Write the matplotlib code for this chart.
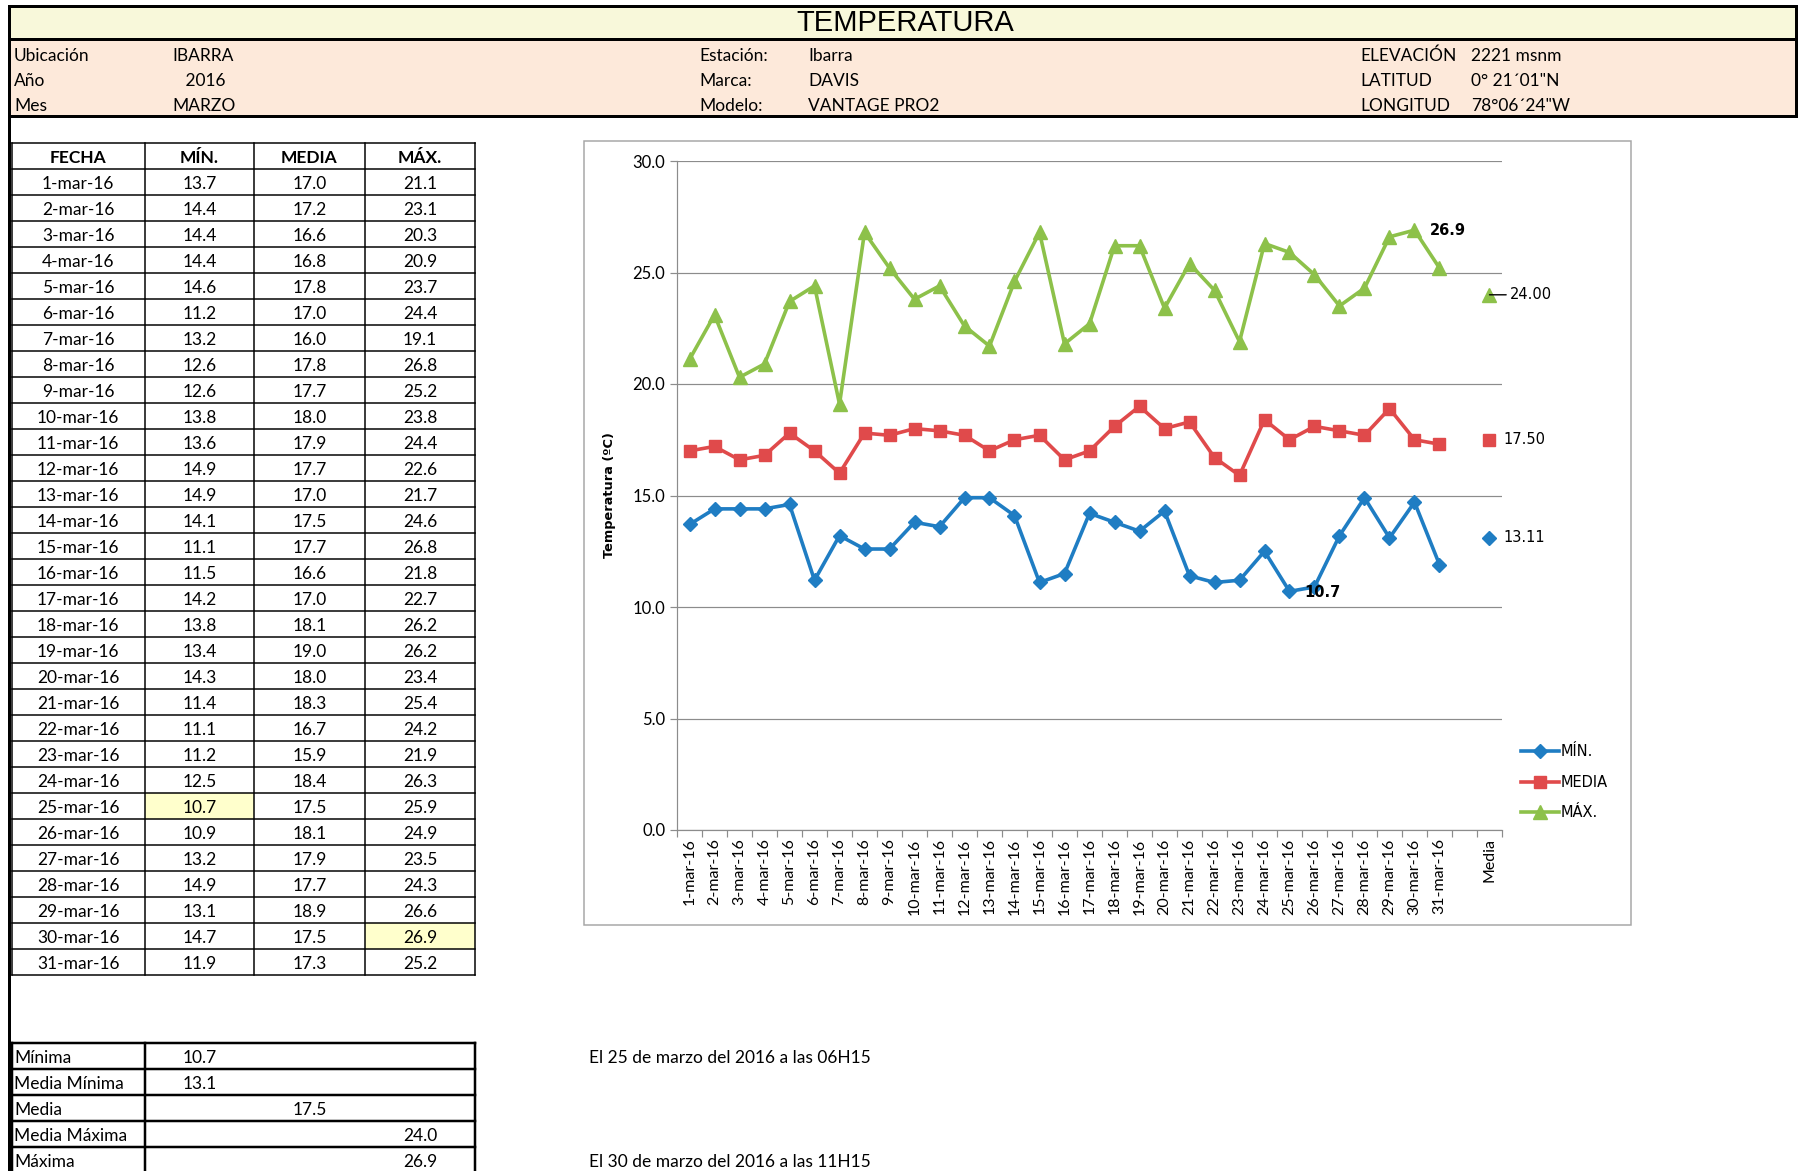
import numpy as np
import matplotlib
matplotlib.use('Agg')
from matplotlib import pyplot as plt
from matplotlib.patches import Rectangle

plt.rcParams['font.family'] = ['Lato', 'DejaVu Sans']

# ---- datos ----
dias = [f"{d}-mar-16" for d in range(1, 32)]
t_min = [13.7, 14.4, 14.4, 14.4, 14.6, 11.2, 13.2, 12.6, 12.6, 13.8, 13.6, 14.9, 14.9, 14.1, 11.1, 11.5,
         14.2, 13.8, 13.4, 14.3, 11.4, 11.1, 11.2, 12.5, 10.7, 10.9, 13.2, 14.9, 13.1, 14.7, 11.9]
t_media = [17.0, 17.2, 16.6, 16.8, 17.8, 17.0, 16.0, 17.8, 17.7, 18.0, 17.9, 17.7, 17.0, 17.5, 17.7, 16.6,
           17.0, 18.1, 19.0, 18.0, 18.3, 16.7, 15.9, 18.4, 17.5, 18.1, 17.9, 17.7, 18.9, 17.5, 17.3]
t_max = [21.1, 23.1, 20.3, 20.9, 23.7, 24.4, 19.1, 26.8, 25.2, 23.8, 24.4, 22.6, 21.7, 24.6, 26.8, 21.8,
         22.7, 26.2, 26.2, 23.4, 25.4, 24.2, 21.9, 26.3, 25.9, 24.9, 23.5, 24.3, 26.6, 26.9, 25.2]
promedio_min = 13.11
promedio_media = 17.50
promedio_max = 24.00

encabezados = ['FECHA', 'MÍN.', 'MEDIA', 'MÁX.']
resumen_etiquetas = ['Mínima', 'Media Mínima', 'Media', 'Media Máxima', 'Máxima']
resumen_valores = [10.7, 13.1, 17.5, 24.0, 26.9]
resumen_columna = [1, 1, 2, 3, 3]
nota_min = 'El 25 de marzo del 2016 a las 06H15'
nota_max = 'El 30 de marzo del 2016 a las 11H15'

info = [('Ubicación', 'IBARRA', 'Estación:', 'Ibarra', 'ELEVACIÓN', '2221 msnm'),
        ('Año', '   2016', 'Marca:', 'DAVIS', 'LATITUD', '0° 21´01"N'),
        ('Mes', 'MARZO', 'Modelo:', 'VANTAGE PRO2', 'LONGITUD', '78°06´24"W')]

c_min, c_media, c_max = '#1F7DC3', '#E04A4B', '#8DC14A'

W, H = 1803, 1171
fig = plt.figure(figsize=(W / 100, H / 100), dpi=100)
bg = fig.add_axes([0, 0, 1, 1])
bg.set_xlim(0, W)
bg.set_ylim(H, 0)
bg.axis('off')

px = 0.72  # 1 px en puntos
fs = 12.5  # letra de la hoja
dy = 2     # ajuste vertical del texto


def hl(y, x0, x1, w=1.5):
    bg.plot([x0, x1], [y, y], color='black', lw=w * px, solid_capstyle='projecting')


def vl(x, y0, y1, w=1.5):
    bg.plot([x, x], [y0, y1], color='black', lw=w * px, solid_capstyle='projecting')


# ---- cabecera ----
bg.add_patch(Rectangle((9, 6), 1787, 33, facecolor='#F8F8DA', edgecolor='none'))
bg.add_patch(Rectangle((9, 40), 1787, 76, facecolor='#FDE9DA', edgecolor='none'))
hl(6, 9, 1796, 3)
hl(39, 9, 1796, 3)
hl(116, 9, 1796, 3)
vl(9, 6, H, 3)
vl(1796, 6, 116, 3)
bg.text(905, 23, 'TEMPERATURA', fontsize=21, family='Liberation Sans', ha='center', va='center')
col_x = [14, 172, 699, 808, 1360, 1471]
for r, fila in enumerate(info):
    y = 54 + 25 * r + dy
    for x, t in zip(col_x, fila):
        bg.text(x, y, t, fontsize=fs, ha='left', va='center')

# ---- tabla diaria ----
tx = [11.5, 145, 254, 365, 475]
ty0, th = 143, 26
i_min = int(np.argmin(t_min))
i_max = int(np.argmax(t_max))
bg.add_patch(Rectangle((tx[1], ty0 + th * (i_min + 1)), tx[2] - tx[1], th, facecolor='#FFFFCC', edgecolor='none'))
bg.add_patch(Rectangle((tx[3], ty0 + th * (i_max + 1)), tx[4] - tx[3], th, facecolor='#FFFFCC', edgecolor='none'))
n_filas = len(dias) + 1
for r in range(n_filas + 1):
    hl(ty0 + th * r, tx[0], tx[-1])
for x in tx:
    vl(x, ty0, ty0 + th * n_filas)
centros = [(tx[i] + tx[i + 1]) / 2 for i in range(4)]
for c, t in zip(centros, encabezados):
    bg.text(c, ty0 + th / 2 + dy, t, fontsize=fs, fontweight='bold', ha='center', va='center')
for r in range(len(dias)):
    y = ty0 + th * (r + 1.5) + dy
    fila = [dias[r], f"{t_min[r]:.1f}", f"{t_media[r]:.1f}", f"{t_max[r]:.1f}"]
    for c, t in zip(centros, fila):
        bg.text(c, y, t, fontsize=fs, ha='center', va='center')

# ---- tabla resumen ----
ry0 = 1043
for r in range(len(resumen_etiquetas) + 1):
    hl(ry0 + th * r, tx[0], tx[-1], 2.5)
for x in [tx[0], tx[1], tx[-1]]:
    vl(x, ry0, ry0 + th * len(resumen_etiquetas), 2.5)
for r, (lab, val, col) in enumerate(zip(resumen_etiquetas, resumen_valores, resumen_columna)):
    y = ry0 + th * (r + 0.5) + dy
    bg.text(14, y, lab, fontsize=fs, ha='left', va='center')
    bg.text(centros[col], y, f"{val:.1f}", fontsize=fs, ha='center', va='center')
bg.text(589, ry0 + th * 0.5 + dy, nota_min, fontsize=fs, ha='left', va='center')
bg.text(589, ry0 + th * 4.5 + dy, nota_max, fontsize=fs, ha='left', va='center')

# ---- grafico ----
bg.add_patch(Rectangle((584, 141), 1047, 784, facecolor='white', edgecolor='#A6A6A6', lw=1.5 * px))
ax = fig.add_axes([677 / W, 1 - 830 / H, 825 / W, 669 / H])
ax.patch.set_alpha(0)
n_cat = len(dias) + 2
ax.set_xlim(-0.5, n_cat - 0.5)
ax.set_ylim(0, 30)
ax.set_yticks(np.arange(0, 31, 5))
ax.set_yticklabels([f"{v:.1f}" for v in np.arange(0, 31, 5)], fontsize=12)
ax.yaxis.grid(True, color='#8C8C8C', lw=1.2 * px)
ax.set_axisbelow(True)
for s in ['top', 'right']:
    ax.spines[s].set_visible(False)
for s in ['left', 'bottom']:
    ax.spines[s].set_color('#8C8C8C')
    ax.spines[s].set_linewidth(1.2 * px)
ax.tick_params(axis='y', colors='#8C8C8C', labelcolor='black', length=5, width=1.2 * px)
ax.set_xticks(np.arange(-0.5, n_cat, 1))
ax.set_xticklabels([])
ax.set_xticks(np.arange(n_cat), minor=True)
ax.set_xticklabels(dias + ['', 'Media'], minor=True, rotation=90, fontsize=11.5)
ax.tick_params(axis='x', which='major', colors='#8C8C8C', length=5, width=1.2 * px)
ax.tick_params(axis='x', which='minor', length=0, pad=6)
ax.set_ylabel('Temperatura (ºC)', family='DejaVu Sans', fontweight='bold', fontsize=9.3, labelpad=12)

x = np.arange(len(dias))
l1, = ax.plot(x, t_min, color=c_min, lw=2.6, marker='D', ms=7, label='MÍN.')
l2, = ax.plot(x, t_media, color=c_media, lw=2.6, marker='s', ms=8.5, label='MEDIA')
l3, = ax.plot(x, t_max, color=c_max, lw=2.6, marker='^', ms=9.5, label='MÁX.')
xm = n_cat - 1
ax.plot([xm], [promedio_min], color=c_min, marker='D', ms=7, ls='none')
ax.plot([xm], [promedio_media], color=c_media, marker='s', ms=8.5, ls='none')
ax.plot([xm], [promedio_max], color=c_max, marker='^', ms=9.5, ls='none')

lab_kw = dict(textcoords='offset points', va='center', ha='left', family='DejaVu Sans', fontsize=10.5)
ax.annotate(f"{t_max[i_max]:.1f}", xy=(i_max, t_max[i_max]), xytext=(11, 0), fontweight='bold', **lab_kw)
ax.annotate(f"{t_min[i_min]:.1f}", xy=(i_min, t_min[i_min]), xytext=(11, -1), fontweight='bold', **lab_kw)
ax.annotate(f"{promedio_max:.2f}", xy=(xm, promedio_max), xytext=(15, 0),
            arrowprops=dict(arrowstyle='-', color='black', lw=1, shrinkA=1, shrinkB=0), **lab_kw)
ax.annotate(f"{promedio_media:.2f}", xy=(xm, promedio_media), xytext=(10, 0), **lab_kw)
ax.annotate(f"{promedio_min:.2f}", xy=(xm, promedio_min), xytext=(10, 0), **lab_kw)

fig.legend(handles=[l1, l2, l3], loc='upper left', bbox_to_anchor=(1514 / W, 1 - 737 / H),
           frameon=False, prop={'family': 'DejaVu Sans', 'size': 10.5}, handlelength=2.6,
           handletextpad=0.1, labelspacing=1.05, borderpad=0)

fig.savefig('out.png', dpi=100)
